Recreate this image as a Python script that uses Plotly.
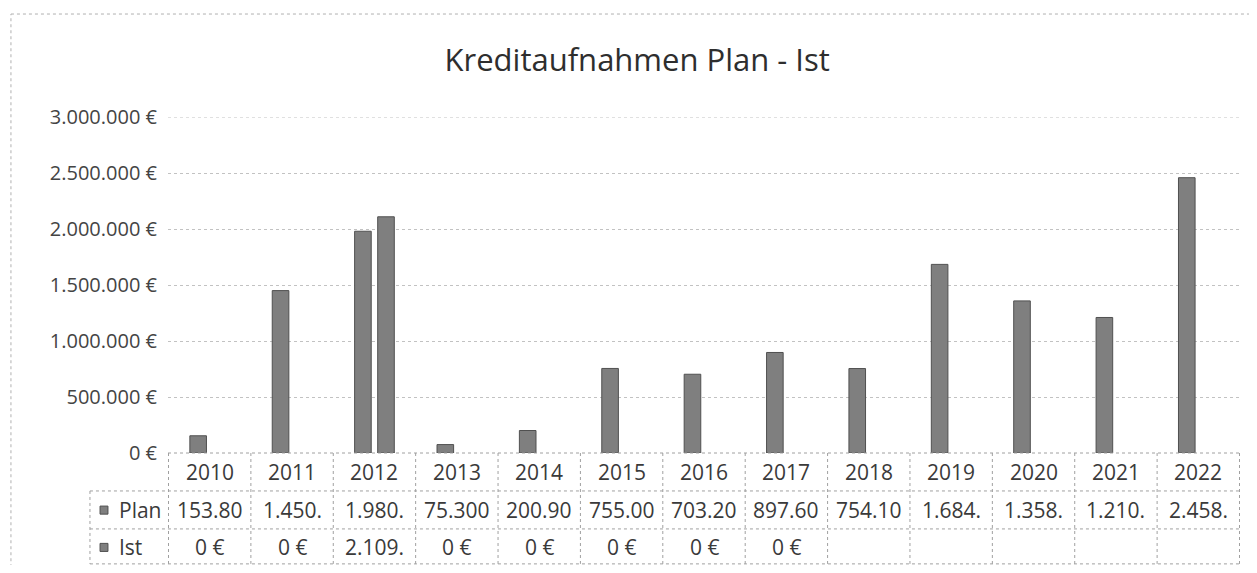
import plotly.graph_objects as go

years = ["2010", "2011", "2012", "2013", "2014", "2015", "2016", "2017", "2018", "2019", "2020", "2021", "2022"]
plan = [153800, 1450000, 1980000, 75300, 200900, 755000, 703200, 897600, 754100, 1684000, 1358000, 1210000, 2458000]
ist = [0, 0, 2109000, 0, 0, 0, 0, 0, None, None, None, None, None]
plan_labels = ["153.80", "1.450.", "1.980.", "75.300", "200.90", "755.00", "703.20", "897.60", "754.10", "1.684.", "1.358.", "1.210.", "2.458."]
ist_labels = ["0 €", "0 €", "2.109.", "0 €", "0 €", "0 €", "0 €", "0 €", "", "", "", "", ""]
series_names = ["Plan", "Ist"]
tick_vals = [0, 500000, 1000000, 1500000, 2000000, 2500000, 3000000]
tick_text = ["0 €", "500.000 €", "1.000.000 €", "1.500.000 €", "2.000.000 €", "2.500.000 €", "3.000.000 €"]

FONT = "Open Sans"
BAR = "#7f7f7f"
EDGE = "#505050"
TXT = "#3a3a3a"
LINE = "#a0a0a0"
GRID = "#c2c2c2"


def edge_widths(values):
    # no outline on empty (zero) bars so they stay invisible
    return [1 if v else 0 for v in values]


fig = go.Figure()
fig.add_trace(go.Bar(x=years, y=plan, name=series_names[0],
                     marker=dict(color=BAR, line=dict(color=EDGE, width=edge_widths(plan)))))
fig.add_trace(go.Bar(x=years, y=ist, name=series_names[1],
                     marker=dict(color=BAR, line=dict(color=EDGE, width=edge_widths(ist)))))

# table geometry in paper coordinates
y_rows = [0, -0.113, -0.226, -0.330]
y_text = [-0.057, -0.170, -0.281]
x_left = -0.0728
n = len(years)

shapes = []
# top gridline at 3.000.000
shapes.append(dict(type="line", xref="paper", yref="y", x0=0, x1=1, y0=tick_vals[-1], y1=tick_vals[-1],
                   line=dict(color=GRID, width=1, dash="dot")))
# axis line / table top
shapes.append(dict(type="line", xref="paper", yref="paper", x0=0, x1=1, y0=0, y1=0,
                   line=dict(color=LINE, width=1, dash="dot")))
# horizontal table lines
for yy in y_rows[1:]:
    shapes.append(dict(type="line", xref="paper", yref="paper", x0=x_left, x1=1, y0=yy, y1=yy,
                       line=dict(color=LINE, width=1, dash="dot")))
# vertical table lines
for k in range(n + 1):
    shapes.append(dict(type="line", xref="x", yref="paper", x0=k - 0.5, x1=k - 0.5, y0=y_rows[0], y1=y_rows[3],
                       line=dict(color=LINE, width=1, dash="dot")))
# left border of legend column
shapes.append(dict(type="line", xref="paper", yref="paper", x0=x_left, x1=x_left, y0=y_rows[1], y1=y_rows[3],
                   line=dict(color=LINE, width=1, dash="dot")))
# legend key squares
for yy in y_text[1:]:
    shapes.append(dict(type="rect", xref="paper", yref="paper", x0=-0.0634, x1=-0.0560, y0=yy - 0.012, y1=yy + 0.012,
                       fillcolor=BAR, line=dict(color=EDGE, width=1)))
# outer frame (left and top edges)
shapes.append(dict(type="line", xref="paper", yref="paper", x0=-0.1465, x1=-0.1465, y0=-0.34, y1=1.3065,
                   line=dict(color="#b0b0b0", width=1, dash="dot")))
shapes.append(dict(type="line", xref="paper", yref="paper", x0=-0.1465, x1=1.01, y0=1.3065, y1=1.3065,
                   line=dict(color="#b0b0b0", width=1, dash="dot")))

annotations = []
tfont = dict(family=FONT, size=21, color=TXT)
for k, yr in enumerate(years):
    annotations.append(dict(x=k, y=y_text[0], xref="x", yref="paper", text=yr, showarrow=False,
                            xanchor="center", yanchor="middle", font=tfont))
    annotations.append(dict(x=k, y=y_text[1], xref="x", yref="paper", text=plan_labels[k], showarrow=False,
                            xanchor="center", yanchor="middle", font=tfont))
    if ist_labels[k]:
        annotations.append(dict(x=k, y=y_text[2], xref="x", yref="paper", text=ist_labels[k], showarrow=False,
                                xanchor="center", yanchor="middle", font=tfont))
for name, yy in zip(series_names, y_text[1:]):
    annotations.append(dict(x=-0.0475, y=yy, xref="paper", yref="paper", xanchor="left", yanchor="middle",
                            text=name, showarrow=False, font=tfont))

fig.update_layout(
    width=1241, height=557,
    paper_bgcolor="white", plot_bgcolor="white",
    margin=dict(l=160, r=9, t=109, b=112),
    title=dict(text="Kreditaufnahmen Plan - Ist", x=0.507, xanchor="center", y=1 - 52 / 557, yanchor="middle",
               font=dict(family=FONT, size=31, color="#2e2e2e")),
    barmode="group", bargap=0.44, bargroupgap=0.28,
    showlegend=False,
    xaxis=dict(showticklabels=False, showgrid=False, zeroline=False, showline=False, ticks=""),
    yaxis=dict(range=[0, 3000000], tickvals=tick_vals, ticktext=tick_text,
               tickfont=dict(family=FONT, size=20, color="#444444"),
               showgrid=True, gridcolor=GRID, griddash="dot", gridwidth=1,
               zeroline=False, ticklen=0, ticks="", ticklabelstandoff=10),
    shapes=shapes,
    annotations=annotations,
)

fig.write_html("out.html")
